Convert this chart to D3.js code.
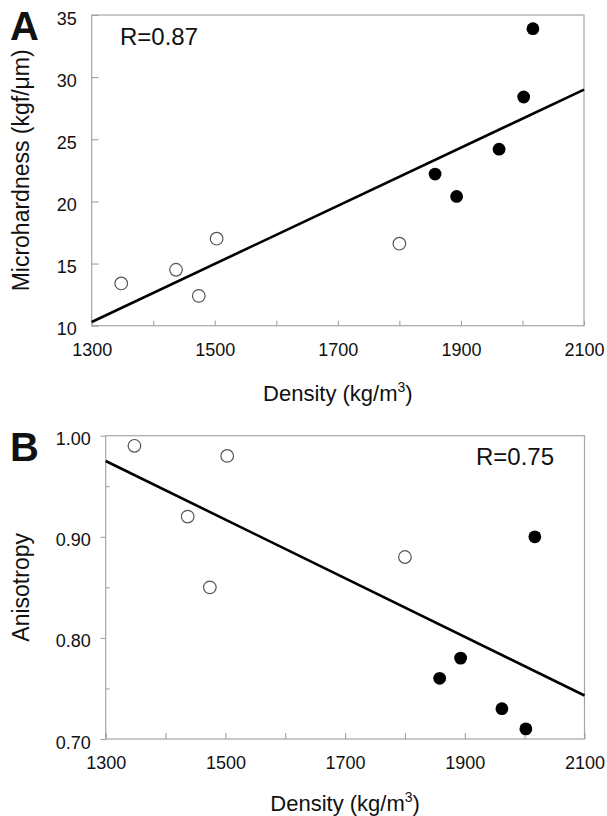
<!DOCTYPE html>
<html>
<head>
<meta charset="utf-8">
<script src="https://cdn.jsdelivr.net/npm/d3@7"></script>
<style>
    body { margin: 0; background: #fff; }
    svg text { font-family: "Liberation Sans", Arial, sans-serif; fill: #111; }
</style>
</head>
<body>
<div class="plot"></div>
<script>
// same samples in both panels: open = first group, filled = second group
const densityOpen = [1348, 1437, 1474, 1503, 1800];
const densityFilled = [1858, 1893, 1962, 2002, 2017];

const hardnessOpen = [13.4, 14.5, 12.4, 17.0, 16.6];
const hardnessFilled = [22.2, 20.4, 24.2, 28.4, 33.9];

const anisoOpen = [0.99, 0.92, 0.85, 0.98, 0.88];
const anisoFilled = [0.76, 0.78, 0.73, 0.71, 0.90];

// regression lines, end points
const fitDensity = [1300, 2100];
const fitHardness = [10.3, 29.0];
const fitAniso = [0.975, 0.743];

const densityTicks = [1300, 1400, 1500, 1600, 1700, 1800, 1900, 2000, 2100];
const densityLabels = [1300, 1500, 1700, 1900, 2100];
const hardnessTicks = [10, 15, 20, 25, 30, 35];
const anisoTicks = [0.7, 0.8, 0.9, 1.0];
const anisoMinor = [0.75, 0.85, 0.95];

const svg = d3
    .select(".plot")
    .append("svg")
    .attr("width", 607)
    .attr("height", 816);

function drawPanel(p) {
    const x = d3.scaleLinear().domain([1300, 2100]).range([p.left, p.right]);
    const y = d3.scaleLinear().domain(p.domain).range([p.bottom, p.top]);
    const g = svg.append("g");

    // x axis, inward ticks
    const xAxis = g
        .append("g")
        .attr("transform", `translate(0, ${p.bottom})`)
        .call(
            d3.axisBottom(x)
                .tickValues(densityTicks)
                .tickSize(-p.xTick)
                .tickPadding(p.xPad)
                .tickFormat((d) => (densityLabels.includes(d) ? d : ""))
        );
    xAxis.select(".domain").remove();
    xAxis.selectAll("line").attr("stroke", "#999");
    xAxis.selectAll("text").style("font-size", "18px").attr("fill", "#111");

    // y axis labels (+ ticks)
    const yAxis = g
        .append("g")
        .attr("transform", `translate(${p.left}, 0)`)
        .call(
            d3.axisLeft(y)
                .tickValues(p.yTicks)
                .tickSize(p.yTick)
                .tickPadding(p.yPad)
                .tickFormat(p.yFormat)
        );
    yAxis.select(".domain").remove();
    yAxis.selectAll("line").attr("stroke", "#999");
    yAxis.selectAll("text").style("font-size", "18px").attr("fill", "#111").attr("dy", "0.5em");

    if (p.yMinor) {
        const minor = g
            .append("g")
            .attr("transform", `translate(${p.left}, 0)`)
            .call(d3.axisLeft(y).tickValues(p.yMinor).tickSize(-4).tickFormat(""));
        minor.select(".domain").remove();
        minor.selectAll("line").attr("stroke", "#999");
    }

    // frame
    g.append("rect")
        .attr("x", p.left)
        .attr("y", p.top)
        .attr("width", p.right - p.left)
        .attr("height", p.bottom - p.top)
        .attr("fill", "none")
        .attr("stroke", "#a6a6a6")
        .attr("stroke-width", 1.2);

    // fit line
    g.append("line")
        .attr("x1", x(fitDensity[0]))
        .attr("y1", y(p.fit[0]))
        .attr("x2", x(fitDensity[1]))
        .attr("y2", y(p.fit[1]))
        .attr("stroke", "#000")
        .attr("stroke-width", 2.6);

    g.selectAll(".open")
        .data(densityOpen)
        .join("circle")
        .attr("class", "open")
        .attr("cx", (d) => x(d))
        .attr("cy", (d, i) => y(p.open[i]))
        .attr("r", 6.3)
        .attr("fill", "#fff")
        .attr("stroke", "#555")
        .attr("stroke-width", 1.2);

    g.selectAll(".filled")
        .data(densityFilled)
        .join("circle")
        .attr("class", "filled")
        .attr("cx", (d) => x(d))
        .attr("cy", (d, i) => y(p.filled[i]))
        .attr("r", 6.4)
        .attr("fill", "#000");

    // panel letter
    g.append("text")
        .attr("x", 10)
        .attr("y", p.letterY)
        .text(p.letter)
        .style("font-size", "40px")
        .style("font-weight", "bold")
        .attr("fill", "#000");

    // R value
    g.append("text")
        .attr("x", p.rX)
        .attr("y", p.rY)
        .attr("text-anchor", p.rAnchor)
        .text(p.r)
        .style("font-size", "24px");

    // x title with superscript
    const xt = g
        .append("text")
        .attr("x", (p.left + p.right) / 2)
        .attr("y", p.bottom + p.titleGap)
        .attr("text-anchor", "middle")
        .style("font-size", "22px");
    xt.append("tspan").text("Density (kg/m");
    xt.append("tspan").text("3").attr("dy", -9).style("font-size", "14px");
    xt.append("tspan").text(")").attr("dy", 9);

    g.append("text")
        .attr("transform", `translate(28.5, ${(p.top + p.bottom) / 2}) rotate(-90)`)
        .attr("text-anchor", "middle")
        .text(p.yTitle)
        .style("font-size", "23px");
}

drawPanel({
    left: 91.7, right: 584, top: 15, bottom: 325.7,
    domain: [10, 35],
    yTicks: hardnessTicks, yTick: -7, yPad: 15, yFormat: d3.format("d"),
    xTick: 5, xPad: 18,
    open: hardnessOpen, filled: hardnessFilled, fit: fitHardness,
    letter: "A", letterY: 40,
    r: "R=0.87", rX: 120, rY: 45, rAnchor: "start",
    titleGap: 75, yTitle: "Microhardness (kgf/\u03bcm)"
});

drawPanel({
    left: 105.7, right: 584.5, top: 435.7, bottom: 739,
    domain: [0.7, 1.0],
    yTicks: anisoTicks, yTick: 5, yPad: 10, yFormat: d3.format(".2f"),
    yMinor: anisoMinor,
    xTick: 6, xPad: 17,
    open: anisoOpen, filled: anisoFilled, fit: fitAniso,
    letter: "B", letterY: 460.5,
    r: "R=0.75", rX: 554, rY: 465, rAnchor: "end",
    titleGap: 72, yTitle: "Anisotropy"
});
</script>
</body>
</html>
